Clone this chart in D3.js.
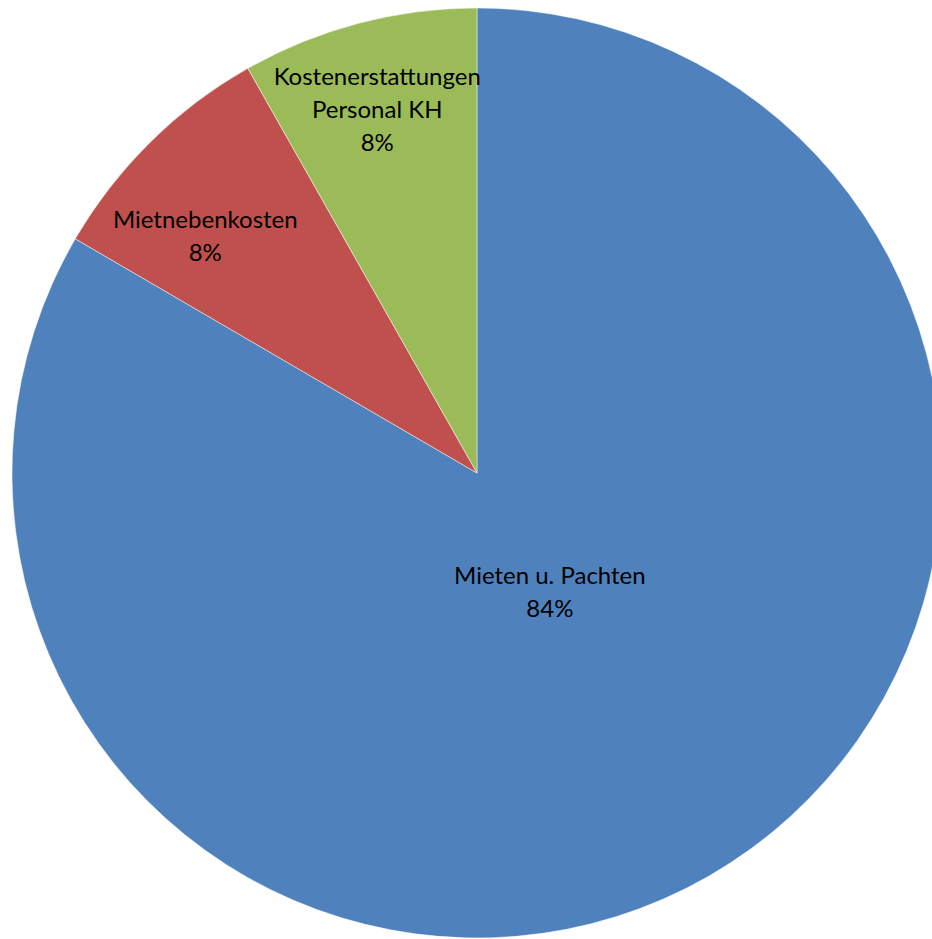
<!DOCTYPE html>
<html>
<head>
<meta charset="utf-8">
<title>Mieten Pie</title>
<style>
  body {margin: 0; background: #fff;}
  svg {display: block;}
  text {font-family: Lato, "Open Sans", sans-serif; font-size: 24px; fill: #000;}
</style>
</head>
<body>
<svg></svg>
<script src="https://d3js.org/d3.v7.min.js"></script>
<script>
// data
const categories = ["Mieten u. Pachten", "Mietnebenkosten", "Kostenerstattungen Personal KH"];
const shares = [83.4, 8.4, 8.2];
const pctLabels = ["84%", "8%", "8%"];
const colors = ["#4F81BD", "#C0504D", "#9BBB59"];

// label layout: fraction of radius, angle shift in degrees (Excel best fit)
const labelFrac = [0.30, 0.775, 0.81];
const labelShift = [-1.6, -4.3, -0.6];
const labelLines = [["Mieten u. Pachten"], ["Mietnebenkosten"], ["Kostenerstattungen", "Personal KH"]];

const width = 932, height = 939;
const cx = 477, cy = 473, r = 465;
const lh = 33, cap = 17;

const svg = d3.select("svg").attr("width", width).attr("height", height);
const g = svg.append("g").attr("transform", `translate(${cx},${cy})`);

const pie = d3.pie().sort(null).value(d => d.v);
const arcs = pie(categories.map((c, i) => ({name: c, v: shares[i], i: i})));
const arc = d3.arc().innerRadius(0).outerRadius(r);

g.selectAll("path")
  .data(arcs)
  .enter()
  .append("path")
  .attr("d", arc)
  .attr("fill", d => colors[d.data.i])
  .attr("stroke", "#fff")
  .attr("stroke-opacity", 0.6)
  .attr("stroke-width", 0.8);

arcs.forEach(d => {
  const i = d.data.i;
  const a = (d.startAngle + d.endAngle) / 2 + labelShift[i] * Math.PI / 180;
  const rr = r * labelFrac[i];
  const x = rr * Math.sin(a), y = -rr * Math.cos(a);
  const lines = labelLines[i].concat([pctLabels[i]]);
  const y0 = y - (lines.length - 1) * lh / 2 + cap / 2;
  const t = g.append("text").attr("text-anchor", "middle");
  lines.forEach((s, k) => {
    t.append("tspan").attr("x", x).attr("y", y0 + k * lh).text(s);
  });
});
</script>
</body>
</html>
